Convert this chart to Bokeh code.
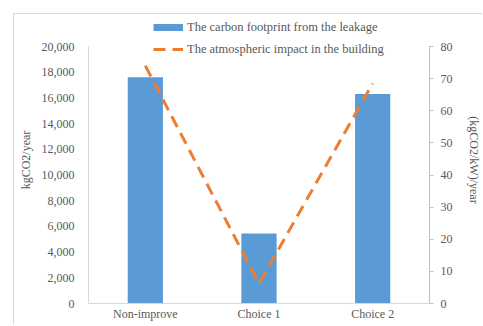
import math
from bokeh.plotting import figure
from bokeh.models import (FactorRange, Range1d, LinearAxis, NumeralTickFormatter,
                          Legend, LegendItem, ColumnDataSource, FixedTicker)
from bokeh.embed import file_html
from bokeh.resources import INLINE

categories = ["Non-improve", "Choice 1", "Choice 2"]
footprint = [17600, 5450, 16300]          # kgCO2/year (left axis)
atmospheric = [74.0, 6.2, 68.5]           # (kgCO2/kW)/year (right axis)
left_ticks = list(range(0, 20001, 2000))
right_ticks = list(range(0, 81, 10))
left_max, right_max = 20000, 80

bar_label = "The carbon footprint from the leakage"
line_label = "The atmospheric impact in the building"

FONT = "Liberation Serif"
TICK_COLOR = "#595959"
BLUE = "#5B9BD5"
ORANGE = "#ED7D31"

W, H = 469, 312
B_LEFT, B_RIGHT, B_TOP, B_BOTTOM = 74, 52, 2, 23
frame_h = H - B_TOP - B_BOTTOM
axis_h = frame_h - 30          # axes stop 30px below the frame top; legend sits above
HEADROOM = frame_h / axis_h

src = ColumnDataSource(dict(cat=categories, fp=footprint, at=atmospheric))

p = figure(x_range=FactorRange(*categories), y_range=Range1d(0, left_max * HEADROOM),
           width=W, height=H, output_backend="svg", toolbar_location=None,
           min_border_left=B_LEFT, min_border_right=B_RIGHT,
           min_border_top=B_TOP, min_border_bottom=B_BOTTOM)
p.styles = {"margin-left": "13px", "margin-top": "13px",
            "border-left": "1px solid #d9d9d9", "border-top": "1px solid #d9d9d9"}
p.outline_line_color = None
p.xgrid.visible = False
p.ygrid.visible = False
p.background_fill_color = "white"
p.border_fill_color = "white"

p.extra_y_ranges = {"right": Range1d(0, right_max * HEADROOM)}

bars = p.vbar(x="cat", top="fp", width=0.31, source=src, fill_color=BLUE, line_color=None)
line = p.line(x="cat", y="at", source=src, y_range_name="right", line_color=ORANGE,
              line_width=3, line_dash="12 7")

# legend swatch proxy: a single NaN point draws nothing in the plot
proxy = p.line(x=[categories[0]], y=[float("nan")], line_color=BLUE, line_width=7)

# left axis
ya = p.yaxis[0]
ya.ticker = FixedTicker(ticks=left_ticks)
ya.bounds = (0, left_max)
ya.formatter = NumeralTickFormatter(format="0,0")
ya.axis_label = "kgCO2/year"
ya.axis_line_color = "#d9d9d9"
ya.major_tick_line_color = None
ya.minor_tick_line_color = None
ya.major_tick_out = 0
ya.major_tick_in = 0
ya.major_label_standoff = 14
ya.axis_label_standoff = 6

# right axis
ra = LinearAxis(y_range_name="right", ticker=FixedTicker(ticks=right_ticks))
ra.bounds = (0, right_max)
ra.axis_label = "(kgCO2/kW)/year"
try:
    ra.axis_label_orientation = "vertical"
except Exception as e:
    print("no axis_label_orientation", e)
ra.axis_line_color = "#bfbfbf"
ra.major_tick_line_color = "#bfbfbf"
ra.minor_tick_line_color = None
ra.major_tick_out = 4
ra.major_tick_in = 0
ra.major_label_standoff = 7
ra.axis_label_standoff = 11
p.add_layout(ra, "right")

# bottom axis
xa = p.xaxis[0]
xa.axis_line_color = "#d9d9d9"
xa.major_tick_line_color = None
xa.major_tick_out = 0
xa.major_label_standoff = 3

for ax in (ya, ra, xa):
    ax.major_label_text_font = FONT
    ax.major_label_text_font_size = "12px"
    ax.major_label_text_color = TICK_COLOR
    ax.axis_label_text_font = FONT
    ax.axis_label_text_font_size = "12px"
    ax.axis_label_text_color = TICK_COLOR
    ax.axis_label_text_font_style = "normal"

legend = Legend(items=[LegendItem(label=bar_label, renderers=[proxy]),
                       LegendItem(label=line_label, renderers=[line])],
                location=(65, frame_h - 41), orientation="vertical")
legend.padding = 0
legend.margin = 0
legend.spacing = 6
legend.glyph_width = 30
legend.glyph_height = 16
legend.label_height = 16
legend.label_standoff = 4
legend.border_line_color = None
legend.background_fill_alpha = 0
legend.label_text_font = FONT
legend.label_text_font_size = "12.5px"
legend.label_text_color = TICK_COLOR
p.add_layout(legend, "center")

open("out.html", "w").write(file_html(p, INLINE))
